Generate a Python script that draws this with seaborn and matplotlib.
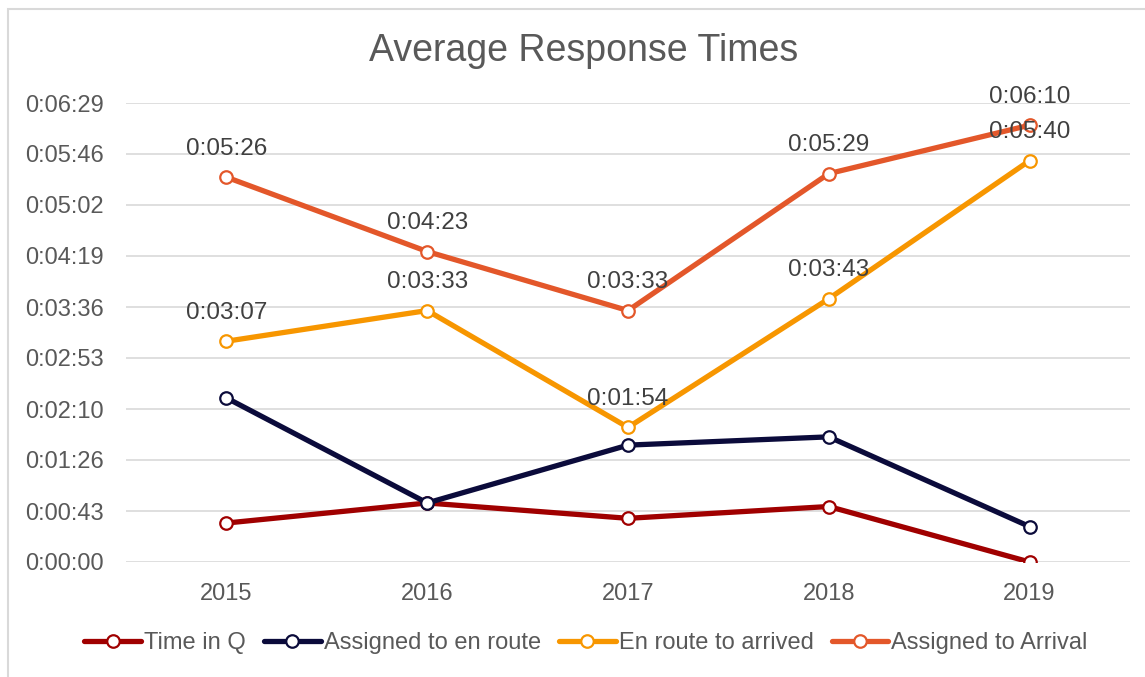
import pandas as pd
import seaborn as sns
import matplotlib.pyplot as plt
from matplotlib.patches import Rectangle
from matplotlib.ticker import FuncFormatter, FixedLocator

# values in seconds
years = ["2015", "2016", "2017", "2018", "2019"]
time_in_q = [33, 50, 37, 47, 0]
assigned_to_en_route = [139, 50, 99, 106, 30]
en_route_to_arrived = [187, 213, 114, 223, 340]
assigned_to_arrival = [326, 263, 213, 329, 370]

series_names = ["Time in Q", "Assigned to en route", "En route to arrived", "Assigned to Arrival"]
series_values = [time_in_q, assigned_to_en_route, en_route_to_arrived, assigned_to_arrival]
colors = ["#A00000", "#0B0B3B", "#F79600", "#E3572A"]
labelled = ["En route to arrived", "Assigned to Arrival"]

# y ticks every 43.2 s (0.0005 day steps as in Excel)
y_ticks = [43.2 * i for i in range(10)]

rows = []
for name, vals in zip(series_names, series_values):
    for yr, v in zip(years, vals):
        rows.append({"year": yr, "seconds": v, "series": name})
df = pd.DataFrame(rows)


def hms(sec, pos=None):
    s = int(round(sec))
    return f"{s // 3600}:{(s % 3600) // 60:02d}:{s % 60:02d}"


sns.set_theme(style="white")
plt.rcParams["font.family"] = ["Liberation Sans", "DejaVu Sans"]

fig = plt.figure(figsize=(11.45, 6.77), dpi=100)
ax = fig.add_axes([126 / 1145, 1 - 562 / 677, (1130 - 126) / 1145, (562 - 103) / 677])

sns.lineplot(data=df, x="year", y="seconds", hue="series", hue_order=series_names,
             palette=dict(zip(series_names, colors)), marker="o", markersize=9,
             linewidth=3.8, ax=ax, legend=False)

for line, c in zip(ax.lines, colors):
    line.set_markeredgecolor(c)
    line.set_markerfacecolor("white")
    line.set_markeredgewidth(1.6)
    line.set_solid_capstyle("round")

# data labels for the two upper series
for name, vals in zip(series_names, series_values):
    if name not in labelled:
        continue
    for i, v in enumerate(vals):
        ax.annotate(hms(v), (i, v), xytext=(0, 20.5), textcoords="offset points",
                    ha="center", va="center", fontsize=17.5, color="#404040")

ax.set_xlim(-0.5, 4.5)
ax.set_ylim(0, y_ticks[-1])
ax.yaxis.set_major_locator(FixedLocator(y_ticks))
ax.yaxis.set_major_formatter(FuncFormatter(hms))
ax.grid(axis="y", color="#D9D9D9", linewidth=1.2)
ax.set_axisbelow(True)
for sp in ax.spines.values():
    sp.set_visible(False)
ax.tick_params(axis="y", length=0, pad=16, labelsize=17, labelcolor="#595959")
ax.tick_params(axis="x", length=0, pad=15, labelsize=17, labelcolor="#595959")
ax.set_xlabel("")
ax.set_ylabel("")

fig.text(584 / 1145, 1 - 51 / 677, "Average Response Times", ha="center", va="center",
         fontsize=27, color="#595959")

handles = [plt.Line2D([], [], color=c, linewidth=3.8, marker="o", markersize=9,
                      markerfacecolor="white", markeredgecolor=c, markeredgewidth=1.6,
                      solid_capstyle="round")
           for c in colors]
fig.legend(handles, series_names, loc="center", bbox_to_anchor=(586 / 1145, 1 - 643 / 677),
           ncol=4, frameon=False, fontsize=17, labelcolor="#595959", handlelength=2.4,
           handletextpad=0.13, columnspacing=0.77, borderaxespad=0)

fig.patches.append(Rectangle((8 / 1145, -0.1), 1.2, 1.1 - 9 / 677, transform=fig.transFigure,
                             fill=False, edgecolor="#D9D9D9", linewidth=1.5))

fig.savefig("out.png", dpi=100)
